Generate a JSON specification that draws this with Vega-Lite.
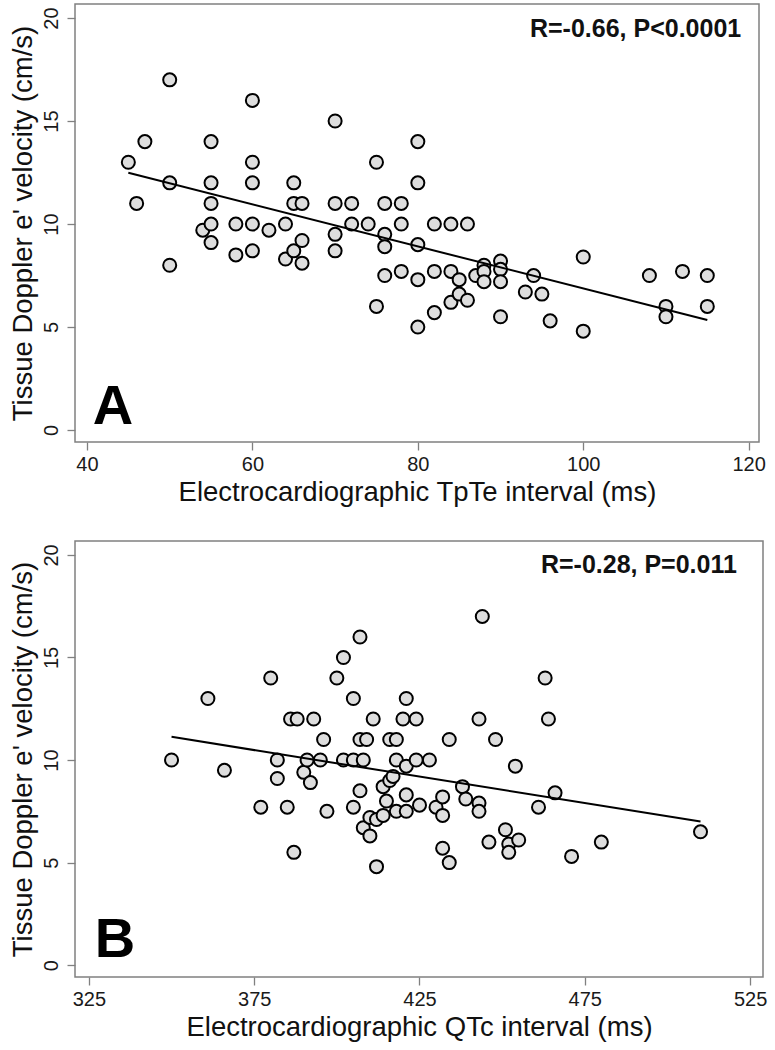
{
  "$schema": "https://vega.github.io/schema/vega-lite/v6.json",
  "padding": {"left": 8, "top": 3, "right": 0, "bottom": 0},
  "background": "white",
  "spacing": 33,
  "config": {
    "font": "Liberation Sans",
    "view": {"stroke": "#808080", "strokeWidth": 1.5},
    "axis": {
      "domain": false, "grid": false,
      "tickColor": "#808080", "tickSize": 8, "tickWidth": 1.3,
      "labelFont": "Liberation Sans", "labelFontSize": 20, "labelColor": "#1a1a1a",
      "titleFont": "Liberation Sans", "titleFontSize": 27.5, "titleFontWeight": "normal", "titleColor": "#111111"
    },
    "axisY": {"labelAngle": -90, "labelAlign": "center", "labelBaseline": "bottom", "labelPadding": 6, "titlePadding": 4},
    "axisX": {"labelPadding": 4, "titlePadding": 4}
  },
  "datasets": {
    "a_pts": [
      {"tpte":45,"ev":13},{"tpte":46,"ev":11},{"tpte":47,"ev":14},{"tpte":50,"ev":17},{"tpte":50,"ev":12},{"tpte":50,"ev":8},
      {"tpte":54,"ev":9.7},{"tpte":55,"ev":14},{"tpte":55,"ev":12},{"tpte":55,"ev":11},{"tpte":55,"ev":10},{"tpte":55,"ev":9.1},
      {"tpte":58,"ev":10},{"tpte":58,"ev":8.5},{"tpte":60,"ev":16},{"tpte":60,"ev":13},{"tpte":60,"ev":12},{"tpte":60,"ev":10},
      {"tpte":60,"ev":8.7},{"tpte":62,"ev":9.7},{"tpte":64,"ev":10},{"tpte":64,"ev":8.3},{"tpte":65,"ev":12},{"tpte":65,"ev":11},
      {"tpte":65,"ev":8.7},{"tpte":66,"ev":11},{"tpte":66,"ev":9.2},{"tpte":66,"ev":8.1},{"tpte":70,"ev":15},{"tpte":70,"ev":11},
      {"tpte":70,"ev":9.5},{"tpte":70,"ev":8.7},{"tpte":72,"ev":11},{"tpte":72,"ev":10},{"tpte":74,"ev":10},{"tpte":75,"ev":13},
      {"tpte":75,"ev":6},{"tpte":76,"ev":11},{"tpte":76,"ev":9.5},{"tpte":76,"ev":8.9},{"tpte":76,"ev":7.5},{"tpte":78,"ev":11},
      {"tpte":78,"ev":10},{"tpte":78,"ev":7.7},{"tpte":80,"ev":14},{"tpte":80,"ev":12},{"tpte":80,"ev":9},{"tpte":80,"ev":7.3},
      {"tpte":80,"ev":5},{"tpte":82,"ev":10},{"tpte":82,"ev":7.7},{"tpte":82,"ev":5.7},{"tpte":84,"ev":10},{"tpte":84,"ev":7.7},
      {"tpte":84,"ev":6.2},{"tpte":85,"ev":7.3},{"tpte":85,"ev":6.6},{"tpte":86,"ev":10},{"tpte":86,"ev":6.3},{"tpte":87,"ev":7.5},
      {"tpte":88,"ev":8},{"tpte":88,"ev":7.7},{"tpte":88,"ev":7.2},{"tpte":90,"ev":8.2},{"tpte":90,"ev":7.8},{"tpte":90,"ev":7.2},
      {"tpte":90,"ev":5.5},{"tpte":93,"ev":6.7},{"tpte":94,"ev":7.5},{"tpte":95,"ev":6.6},{"tpte":96,"ev":5.3},{"tpte":100,"ev":8.4},
      {"tpte":100,"ev":4.8},{"tpte":108,"ev":7.5},{"tpte":110,"ev":6},{"tpte":110,"ev":5.5},{"tpte":112,"ev":7.7},{"tpte":115,"ev":7.5},
      {"tpte":115,"ev":6}
    ],
    "a_fit": [{"tpte":45,"ev":12.49},{"tpte":115,"ev":5.34}],
    "a_txt": [
      {"tpte":119.1,"ev":19.09,"t":"R=-0.66, P<0.0001","k":"stat"},
      {"tpte":40.7,"ev":0.29,"t":"A","k":"letter"}
    ],
    "b_pts": [
      {"qtc":350,"ev":10},{"qtc":361,"ev":13},{"qtc":366,"ev":9.5},{"qtc":377,"ev":7.7},{"qtc":380,"ev":14},{"qtc":382,"ev":10},
      {"qtc":382,"ev":9.1},{"qtc":385,"ev":7.7},{"qtc":386,"ev":12},{"qtc":388,"ev":12},{"qtc":387,"ev":5.5},{"qtc":390,"ev":9.4},
      {"qtc":391,"ev":10},{"qtc":392,"ev":8.9},{"qtc":393,"ev":12},{"qtc":395,"ev":10},{"qtc":396,"ev":11},{"qtc":397,"ev":7.5},
      {"qtc":400,"ev":14},{"qtc":402,"ev":15},{"qtc":402,"ev":10},{"qtc":405,"ev":13},{"qtc":405,"ev":10},{"qtc":405,"ev":7.7},
      {"qtc":407,"ev":16},{"qtc":407,"ev":11},{"qtc":407,"ev":8.5},{"qtc":408,"ev":10},{"qtc":408,"ev":6.7},{"qtc":409,"ev":11},
      {"qtc":410,"ev":7.2},{"qtc":410,"ev":6.3},{"qtc":411,"ev":12},{"qtc":412,"ev":7.1},{"qtc":412,"ev":4.8},{"qtc":414,"ev":7.3},
      {"qtc":414,"ev":8.7},{"qtc":415,"ev":8},{"qtc":416,"ev":11},{"qtc":416,"ev":9},{"qtc":417,"ev":9.2},{"qtc":418,"ev":11},
      {"qtc":418,"ev":10},{"qtc":418,"ev":7.5},{"qtc":420,"ev":12},{"qtc":421,"ev":13},{"qtc":421,"ev":9.7},{"qtc":421,"ev":8.3},
      {"qtc":421,"ev":7.5},{"qtc":424,"ev":12},{"qtc":424,"ev":10},{"qtc":425,"ev":7.8},{"qtc":428,"ev":10},{"qtc":430,"ev":7.7},
      {"qtc":432,"ev":8.2},{"qtc":432,"ev":7.3},{"qtc":432,"ev":5.7},{"qtc":434,"ev":11},{"qtc":434,"ev":5},{"qtc":438,"ev":8.7},
      {"qtc":439,"ev":8.1},{"qtc":443,"ev":12},{"qtc":443,"ev":7.9},{"qtc":443,"ev":7.5},{"qtc":444,"ev":17},{"qtc":446,"ev":6},
      {"qtc":448,"ev":11},{"qtc":451,"ev":6.6},{"qtc":452,"ev":5.9},{"qtc":452,"ev":5.5},{"qtc":454,"ev":9.7},{"qtc":455,"ev":6.1},
      {"qtc":461,"ev":7.7},{"qtc":463,"ev":14},{"qtc":464,"ev":12},{"qtc":466,"ev":8.4},{"qtc":471,"ev":5.3},{"qtc":480,"ev":6},
      {"qtc":510,"ev":6.5}
    ],
    "b_fit": [{"qtc":350,"ev":11.13},{"qtc":510,"ev":7.0}],
    "b_txt": [
      {"qtc":521.0,"ev":19.1,"t":"R=-0.28, P=0.011","k":"stat"},
      {"qtc":326.8,"ev":0.39,"t":"B","k":"letter"}
    ]
  },
  "resolve": {"scale": {"x": "independent", "y": "independent"}},
  "vconcat": [
    {
      "width": 684, "height": 438,
      "encoding": {
        "x": {"field": "tpte", "type": "quantitative",
              "scale": {"domain": [38.55, 121.25], "nice": false, "zero": false},
              "axis": {"values": [40, 60, 80, 100, 120], "title": "Electrocardiographic TpTe interval (ms)"}},
        "y": {"field": "ev", "type": "quantitative",
              "scale": {"domain": [-0.58, 20.68], "nice": false, "zero": false},
              "axis": {"values": [0, 5, 10, 15, 20], "title": "Tissue Doppler e' velocity (cm/s)"}}
      },
      "layer": [
        {"data": {"name": "a_pts"}, "mark": {"type": "point", "shape": "circle", "filled": true, "fill": "#dedede", "stroke": "#000000", "strokeWidth": 2, "size": 170, "opacity": 1}},
        {"data": {"name": "a_fit"}, "mark": {"type": "line", "color": "#000000", "strokeWidth": 2}},
        {"data": {"name": "a_txt"}, "transform": [{"filter": "datum.k === 'stat'"}],
         "mark": {"type": "text", "align": "right", "baseline": "alphabetic", "fontWeight": "bold", "fontSize": 25, "color": "#111111"},
         "encoding": {"text": {"field": "t"}}},
        {"data": {"name": "a_txt"}, "transform": [{"filter": "datum.k === 'letter'"}],
         "mark": {"type": "text", "align": "left", "baseline": "alphabetic", "fontWeight": "bold", "fontSize": 56, "color": "#000000"},
         "encoding": {"text": {"field": "t"}}}
      ]
    },
    {
      "width": 688, "height": 436,
      "encoding": {
        "x": {"field": "qtc", "type": "quantitative",
              "scale": {"domain": [320.8, 528.9], "nice": false, "zero": false},
              "axis": {"values": [325, 375, 425, 475, 525], "title": "Electrocardiographic QTc interval (ms)"}},
        "y": {"field": "ev", "type": "quantitative",
              "scale": {"domain": [-0.58, 20.68], "nice": false, "zero": false},
              "axis": {"values": [0, 5, 10, 15, 20], "title": "Tissue Doppler e' velocity (cm/s)"}}
      },
      "layer": [
        {"data": {"name": "b_pts"}, "mark": {"type": "point", "shape": "circle", "filled": true, "fill": "#dedede", "stroke": "#000000", "strokeWidth": 2, "size": 170, "opacity": 1}},
        {"data": {"name": "b_fit"}, "mark": {"type": "line", "color": "#000000", "strokeWidth": 2}},
        {"data": {"name": "b_txt"}, "transform": [{"filter": "datum.k === 'stat'"}],
         "mark": {"type": "text", "align": "right", "baseline": "alphabetic", "fontWeight": "bold", "fontSize": 25, "color": "#111111"},
         "encoding": {"text": {"field": "t"}}},
        {"data": {"name": "b_txt"}, "transform": [{"filter": "datum.k === 'letter'"}],
         "mark": {"type": "text", "align": "left", "baseline": "alphabetic", "fontWeight": "bold", "fontSize": 56, "color": "#000000"},
         "encoding": {"text": {"field": "t"}}}
      ]
    }
  ]
}
